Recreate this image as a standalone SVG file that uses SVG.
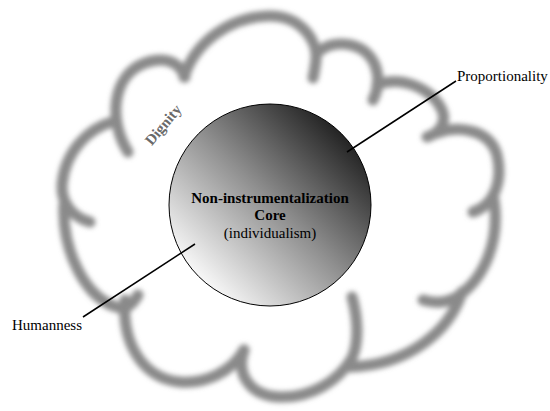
<svg xmlns="http://www.w3.org/2000/svg" width="550" height="411" viewBox="0 0 550 411">
<defs>
<filter id="blur" filterUnits="userSpaceOnUse" x="0" y="0" width="550" height="411">
<feGaussianBlur stdDeviation="2.6"/>
</filter>
<linearGradient id="coreGrad" x1="0.12" y1="0.88" x2="0.9" y2="0.1">
<stop offset="0" stop-color="#ffffff"/>
<stop offset="0.5" stop-color="#8f8f8f"/>
<stop offset="1" stop-color="#161616"/>
</linearGradient>
<style>
.lobe{fill:none;stroke:#8a8a8a;stroke-width:11;stroke-linecap:round;stroke-linejoin:round}
.conn{fill:none;stroke:#000;stroke-width:1.5}
.lbl{font-family:"Liberation Serif","Times New Roman",serif;font-size:15px;fill:#000}
.b{font-weight:bold}
</style>
</defs>
<rect width="550" height="411" fill="#fff"/>
<g id="dignity-cloud" filter="url(#blur)">
<path class="lobe" d="M128,152 C108,120 112,75 145,63 C165,56 180,62 185,77"/>
<path class="lobe" d="M112,122 C90,128 65,150 62,185 C61,205 75,218 90,222"/>
<path class="lobe" d="M64,205 C62,250 85,300 120,308 C128,309 134,302 138,295"/>
<path class="lobe" d="M125,300 C122,340 140,378 180,382 C205,384 232,372 244,350"/>
<path class="lobe" d="M244,350 C236,372 248,396 280,397 C310,398 338,382 352,358 C360,340 357,315 352,297"/>
<path class="lobe" d="M462,292 C450,330 410,365 350,367"/>
<path class="lobe" d="M494,200 C500,240 485,280 455,298 C445,303 433,303 423,300"/>
<path class="lobe" d="M437,133 C460,125 490,130 497,155 C503,180 495,205 473,212"/>
<path class="lobe" d="M377,85 C400,75 432,88 442,110 C447,122 440,133 427,137"/>
<path class="lobe" d="M318,52 C335,38 365,42 375,65 C380,78 378,90 373,100"/>
<path class="lobe" d="M184,77 C195,42 230,17 268,16 C300,15 318,40 316,60 C315,68 314,74 313,78"/>
</g>
<g id="dignity-label">
<text class="lbl b" x="167" y="128" text-anchor="middle" style="fill:#6a6a6a" transform="rotate(-50 167 128)">Dignity</text>
</g>
<g id="core">
<circle cx="270" cy="205" r="101" fill="url(#coreGrad)" stroke="#000" stroke-width="1"/>
<text class="lbl b" x="270" y="203" text-anchor="middle">Non-instrumentalization</text>
<text class="lbl b" x="270" y="220" text-anchor="middle">Core</text>
<text class="lbl" x="270" y="238" text-anchor="middle">(individualism)</text>
</g>
<g id="connectors">
<line class="conn" x1="456" y1="81" x2="347" y2="152"/>
<line class="conn" x1="83" y1="317" x2="195" y2="244"/>
</g>
<g id="proportionality">
<text class="lbl" x="457" y="81">Proportionality</text>
</g>
<g id="humanness">
<text class="lbl" x="12" y="330">Humanness</text>
</g>
</svg>
